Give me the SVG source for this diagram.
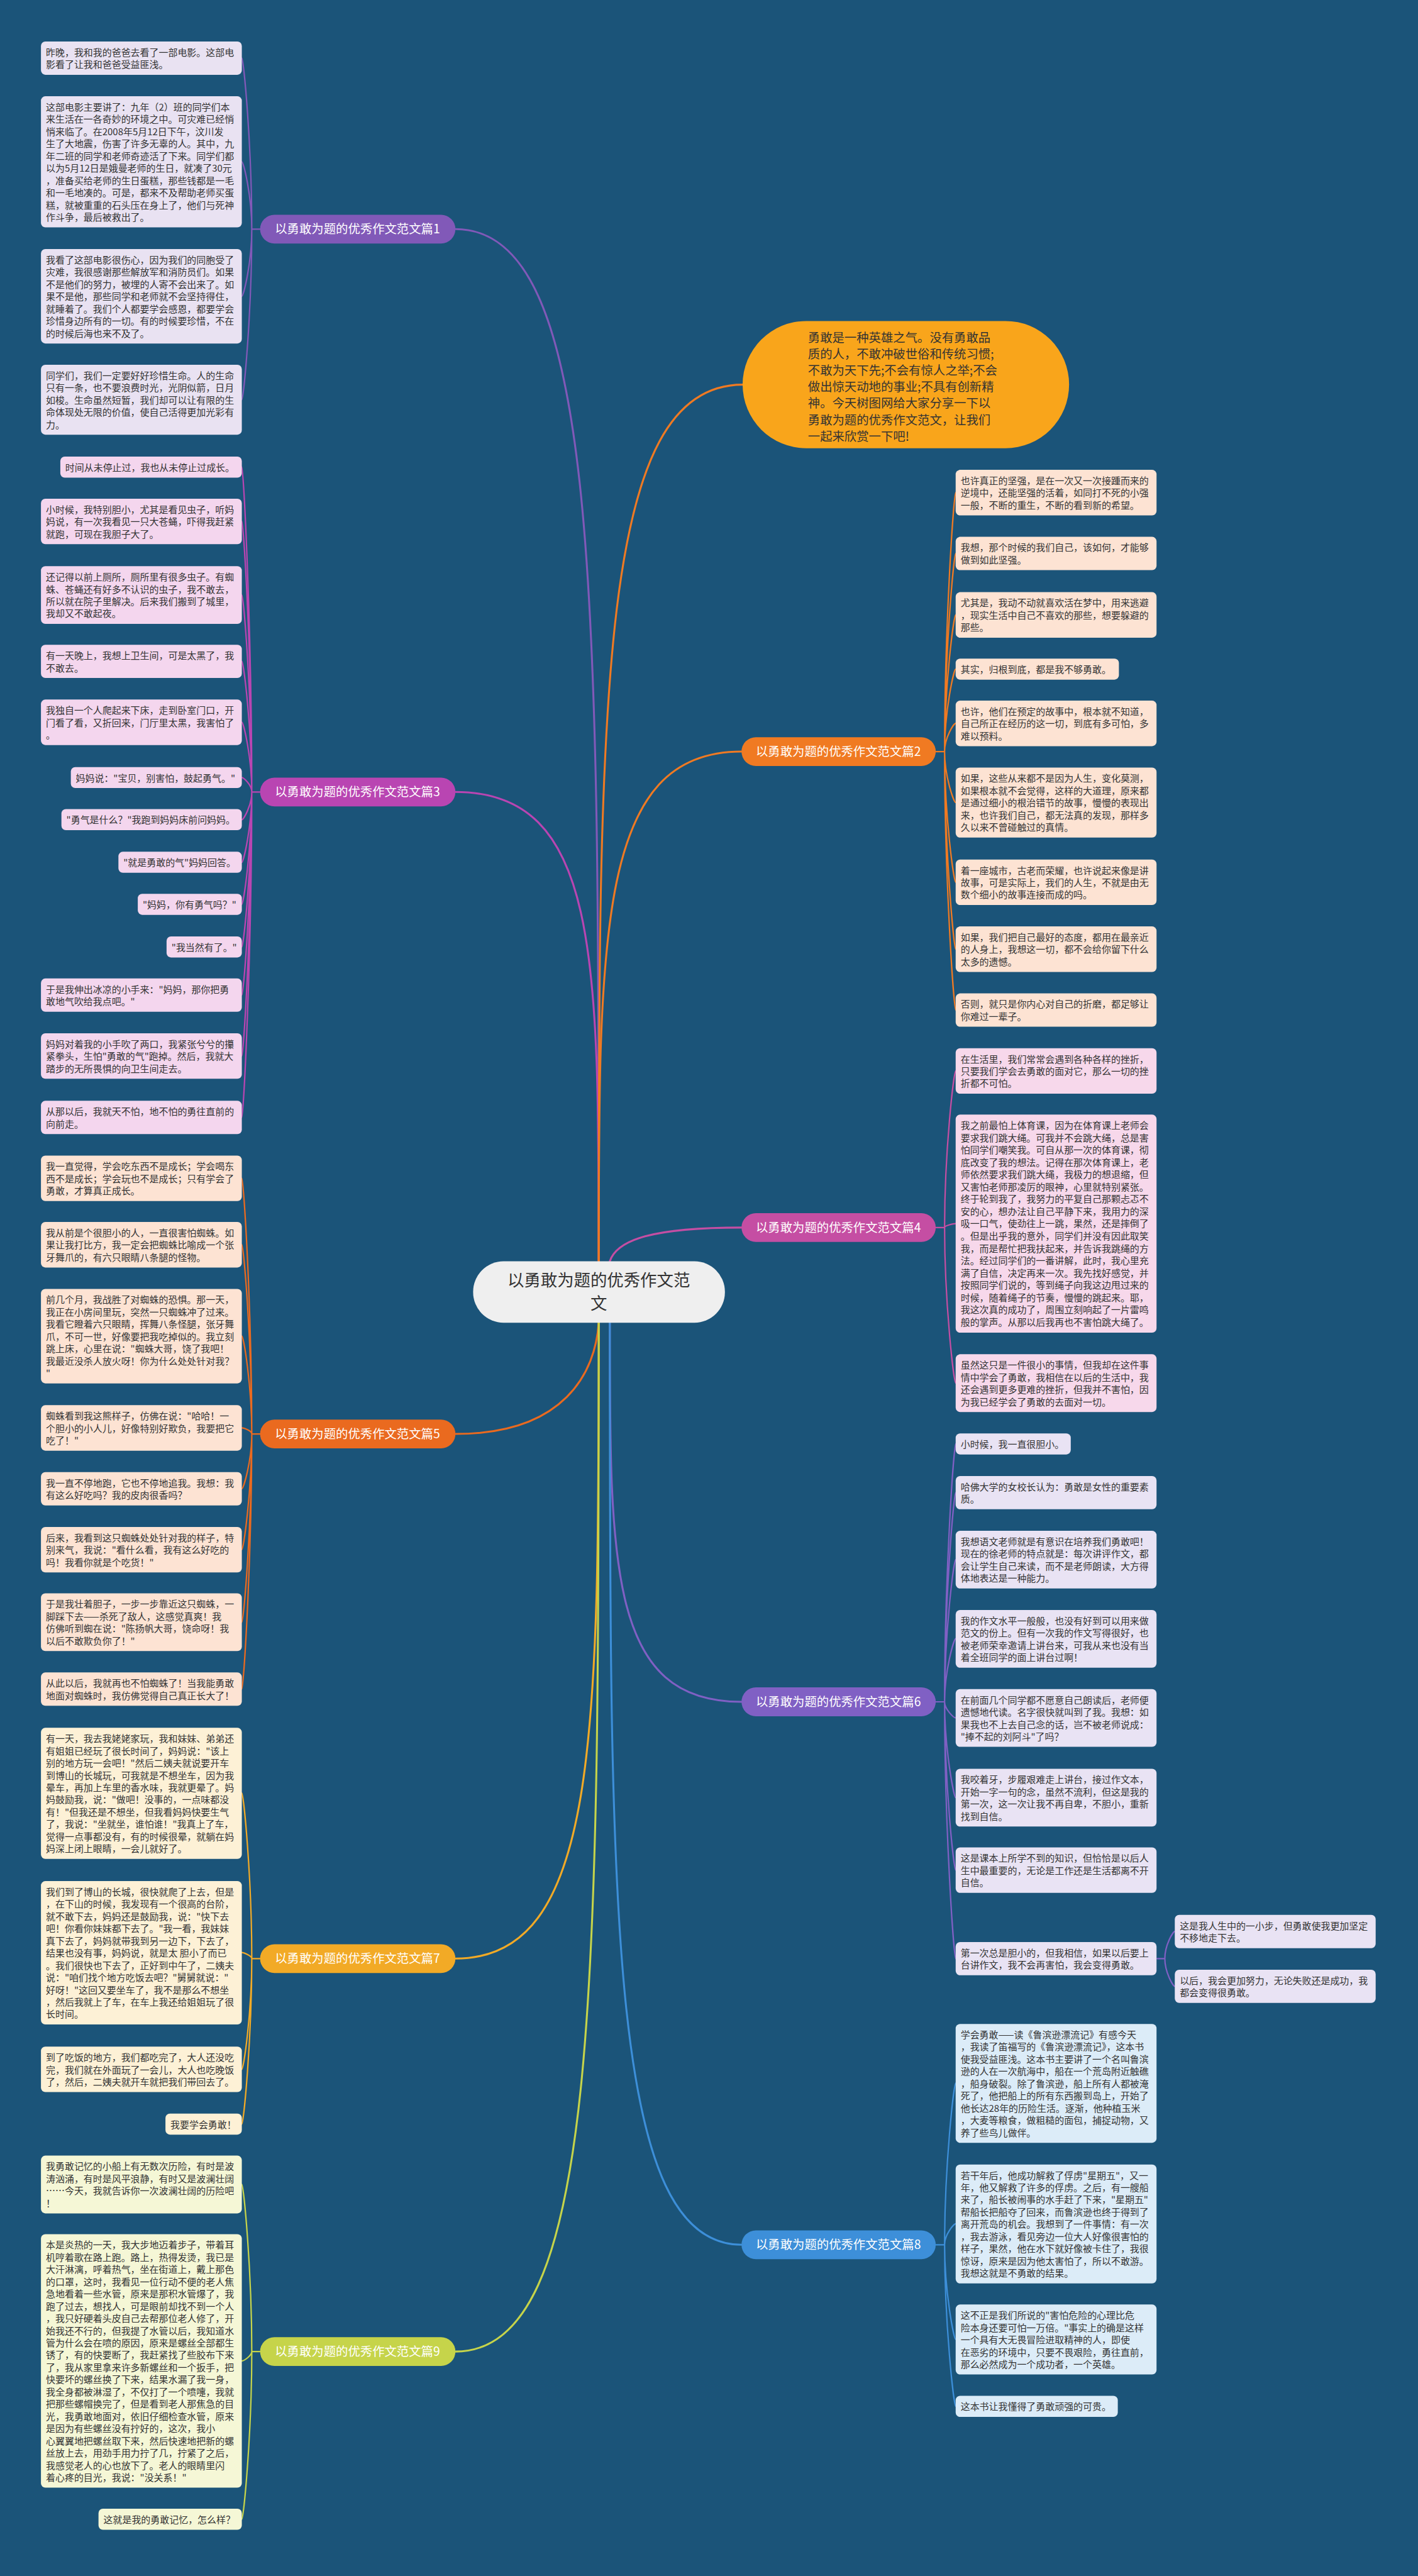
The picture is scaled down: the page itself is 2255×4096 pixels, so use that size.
<svg xmlns="http://www.w3.org/2000/svg" width="2255" height="4096" viewBox="0 0 2255 4096">
<style>
.t{font-family:"Noto Sans CJK SC","Noto Sans",sans-serif;font-size:17px;fill:#333}
.pt{font-family:"Noto Sans CJK SC","Noto Sans",sans-serif;font-size:22px;fill:#fff;text-anchor:middle}
.bt{font-family:"Noto Sans CJK SC","Noto Sans",sans-serif;font-size:22px;fill:#333}
.ct{font-family:"Noto Sans CJK SC","Noto Sans",sans-serif;font-size:30px;fill:#333;text-anchor:middle}
.c{fill:none;stroke-width:2.5;stroke-linecap:round}
.m{fill:none;stroke-width:3.5;stroke-linecap:round}
.f1{fill:#e9e2f2}.f2{fill:#fde3d3}.f3{fill:#f4d6ee}.f4{fill:#f7d8eb}.f5{fill:#fde3d3}.f6{fill:#e9e3f4}.f7{fill:#fdf1d6}.f8{fill:#dcecf8}.f9{fill:#f5f7d6}
.s1{stroke:#8159b8}.s2{stroke:#f07a22}.s3{stroke:#b945b2}.s4{stroke:#c54ea3}.s5{stroke:#ea6a1f}.s6{stroke:#8060c4}.s7{stroke:#f2aa26}.s8{stroke:#3d8fd9}.s9{stroke:#c6d44a}
</style>
<rect x="0" y="0" width="2255" height="4096" fill="#1b5479"/>
<g transform="scale(0.88)">
<g id="connectors">
<path class="m s1" d="M1082,2279 C1082,1067 1082,414 823,414"/>
<path class="m s3" d="M1082,2279 C1082,1728 1082,1431 823,1431"/>
<path class="m s2" d="M1082,2279 C1082,1249 1082,695 1342,695"/>
<path class="m s2" d="M1082,2279 C1082,1680 1082,1358 1340,1358"/>
<path class="m s4" d="M1102,2279 C1115,2240 1180,2218 1340,2218"/>
<path class="m s5" d="M1082,2390 C1076,2480 1020,2591 823,2591"/>
<path class="m s7" d="M1082,2390 C1082,3137 1082,3539 823,3539"/>
<path class="m s9" d="M1082,2390 C1082,3598 1082,4249 823,4249"/>
<path class="m s6" d="M1102,2390 C1102,2835 1102,3075 1340,3075"/>
<path class="m s8" d="M1102,2390 C1102,3473 1102,4056 1340,4056"/>
<path class="c s1" d="M470,414 H455 M455,414 C455,259.5 440,105 437,105 M455,414 C455,353 440,292.5 437,292.5 M455,414 C455,475 440,535 437,535 M455,414 C455,568 440,722 437,722"/>
<path class="c s3" d="M470,1431 H455 M455,1431 C455,1137 440,844 437,844 M455,1431 C455,1186 440,942 437,942 M455,1431 C455,1253 440,1075 437,1075 M455,1431 C455,1313 440,1195 437,1195 M455,1431 C455,1368 440,1305 437,1305 M455,1431 C455,1418 440,1405 437,1405 M455,1431 C455,1456 440,1481 437,1481 M455,1431 C455,1494 440,1558 437,1558 M455,1431 C455,1532 440,1634 437,1634 M455,1431 C455,1571 440,1711 437,1711 M455,1431 C455,1614 440,1798 437,1798 M455,1431 C455,1669 440,1908 437,1908 M455,1431 C455,1725 440,2019 437,2019"/>
<path class="c s5" d="M470,2591 H455 M455,2591 C455,2360 440,2129 437,2129 M455,2591 C455,2420 440,2249 437,2249 M455,2591 C455,2502 440,2414 437,2414 M455,2591 C455,2585 440,2580 437,2580 M455,2591 C455,2640 440,2690 437,2690 M455,2591 C455,2695 440,2800 437,2800 M455,2591 C455,2761 440,2931 437,2931 M455,2591 C455,2821 440,3052 437,3052"/>
<path class="c s7" d="M470,3539 H455 M455,3539 C455,3390 440,3240 437,3240 M455,3539 C455,3534 440,3528 437,3528 M455,3539 C455,3639 440,3739 437,3739 M455,3539 C455,3688 440,3838 437,3838"/>
<path class="c s9" d="M470,4249 H455 M455,4249 C455,4098 440,3947 437,3947 M455,4249 C455,4257 440,4266 437,4266 M455,4249 C455,4400 440,4552 437,4552"/>
<path class="c s2" d="M1691,1358 H1707 M1707,1358 C1707,1124 1724,890 1727,890 M1707,1358 C1707,1179 1724,1000 1727,1000 M1707,1358 C1707,1234 1724,1111 1727,1111 M1707,1358 C1707,1283 1724,1209 1727,1209 M1707,1358 C1707,1332 1724,1307 1727,1307 M1707,1358 C1707,1404 1724,1450 1727,1450 M1707,1358 C1707,1476 1724,1594 1727,1594 M1707,1358 C1707,1536 1724,1715 1727,1715 M1707,1358 C1707,1591 1724,1825 1727,1825"/>
<path class="c s4" d="M1691,2218 H1707 M1707,2218 C1707,2076 1724,1935 1727,1935 M1707,2218 C1707,2214 1724,2211 1727,2211 M1707,2218 C1707,2358 1724,2499 1727,2499"/>
<path class="c s6" d="M1691,3075 H1707 M1707,3075 C1707,2842 1724,2609 1727,2609 M1707,3075 C1707,2886 1724,2697 1727,2697 M1707,3075 C1707,2946 1724,2818 1727,2818 M1707,3075 C1707,3018 1724,2961 1727,2961 M1707,3075 C1707,3089 1724,3104 1727,3104 M1707,3075 C1707,3161 1724,3248 1727,3248 M1707,3075 C1707,3227 1724,3379 1727,3379 M1707,3075 C1707,3307 1724,3539 1727,3539 M2091,3539 H2105 M2105,3539 C2105,3514 2120,3490 2123,3490 M2105,3539 C2105,3564 2120,3589 2123,3589"/>
<path class="c s8" d="M1691,4056 H1707 M1707,4056 C1707,3910 1724,3764 1727,3764 M1707,4056 C1707,4037 1724,4018 1727,4018 M1707,4056 C1707,4142 1724,4227 1727,4227 M1707,4056 C1707,4202 1724,4348 1727,4348"/>
</g>
<g id="center"><rect x="855" y="2279" width="455" height="111" rx="55" fill="#efefef"/><text class="ct" x="1082"><tspan x="1082" y="2324">以勇敢为题的优秀作文范</tspan><tspan x="1082" y="2366">文</tspan></text></g>
<g id="intro"><rect x="1342" y="580" width="590" height="230" rx="115" fill="#f9a51b"/><text class="bt" x="1460" y="618"><tspan x="1460">勇敢是一种英雄之气。没有勇敢品</tspan><tspan x="1460" dy="29.7">质的人，不敢冲破世俗和传统习惯;</tspan><tspan x="1460" dy="29.7">不敢为天下先;不会有惊人之举;不会</tspan><tspan x="1460" dy="29.7">做出惊天动地的事业;不具有创新精</tspan><tspan x="1460" dy="29.7">神。今天树图网给大家分享一下以</tspan><tspan x="1460" dy="29.7">勇敢为题的优秀作文范文，让我们</tspan><tspan x="1460" dy="29.7">一起来欣赏一下吧!</tspan></text></g>
<g id="p1"><rect x="470" y="388" width="353" height="52" rx="26" fill="#8159b8"/><text class="pt" x="646" y="422">以勇敢为题的优秀作文范文篇1</text></g>
<g id="p3"><rect x="470" y="1405" width="353" height="52" rx="26" fill="#b945b2"/><text class="pt" x="646" y="1439">以勇敢为题的优秀作文范文篇3</text></g>
<g id="p5"><rect x="470" y="2565" width="353" height="52" rx="26" fill="#ea6a1f"/><text class="pt" x="646" y="2599">以勇敢为题的优秀作文范文篇5</text></g>
<g id="p7"><rect x="470" y="3513" width="353" height="52" rx="26" fill="#f2aa26"/><text class="pt" x="646" y="3547">以勇敢为题的优秀作文范文篇7</text></g>
<g id="p9"><rect x="470" y="4223" width="353" height="52" rx="26" fill="#c6d44a"/><text class="pt" x="646" y="4257">以勇敢为题的优秀作文范文篇9</text></g>
<g id="p2"><rect x="1340" y="1332" width="351" height="52" rx="26" fill="#f07a22"/><text class="pt" x="1515" y="1366">以勇敢为题的优秀作文范文篇2</text></g>
<g id="p4"><rect x="1340" y="2192" width="351" height="52" rx="26" fill="#c54ea3"/><text class="pt" x="1515" y="2226">以勇敢为题的优秀作文范文篇4</text></g>
<g id="p6"><rect x="1340" y="3049" width="351" height="52" rx="26" fill="#8060c4"/><text class="pt" x="1515" y="3083">以勇敢为题的优秀作文范文篇6</text></g>
<g id="p8"><rect x="1340" y="4030" width="351" height="52" rx="26" fill="#3d8fd9"/><text class="pt" x="1515" y="4064">以勇敢为题的优秀作文范文篇8</text></g>

<g id="L1a"><rect class="f1" x="74" y="75" width="363" height="60.1" rx="8"/><text class="t" y="101"><tspan x="83">昨晚，我和我的爸爸去看了一部电影。这部电</tspan><tspan x="83" dy="22.1">影看了让我和爸爸受益匪浅。</tspan></text></g>
<g id="L1b"><rect class="f1" x="74" y="174" width="363" height="236.9" rx="8"/><text class="t" y="200"><tspan x="83">这部电影主要讲了：九年（2）班的同学们本</tspan><tspan x="83" dy="22.1">来生活在一各奇妙的环境之中。可灾难已经悄</tspan><tspan x="83" dy="22.1">悄来临了。在2008年5月12日下午，汶川发</tspan><tspan x="83" dy="22.1">生了大地震，伤害了许多无辜的人。其中，九</tspan><tspan x="83" dy="22.1">年二班的同学和老师奇迹活了下来。同学们都</tspan><tspan x="83" dy="22.1">以为5月12日是娥曼老师的生日，就凑了30元</tspan><tspan x="83" dy="22.1">，准备买给老师的生日蛋糕，那些钱都是一毛</tspan><tspan x="83" dy="22.1">和一毛地凑的。可是，都来不及帮助老师买蛋</tspan><tspan x="83" dy="22.1">糕，就被重重的石头压在身上了，他们与死神</tspan><tspan x="83" dy="22.1">作斗争，最后被救出了。</tspan></text></g>
<g id="L1c"><rect class="f1" x="74" y="450" width="363" height="170.6" rx="8"/><text class="t" y="476"><tspan x="83">我看了这部电影很伤心，因为我们的同胞受了</tspan><tspan x="83" dy="22.1">灾难，我很感谢那些解放军和消防员们。如果</tspan><tspan x="83" dy="22.1">不是他们的努力，被埋的人寄不会出来了。如</tspan><tspan x="83" dy="22.1">果不是他，那些同学和老师就不会坚持得住，</tspan><tspan x="83" dy="22.1">就睡着了。我们个人都要学会感恩，都要学会</tspan><tspan x="83" dy="22.1">珍惜身边所有的一切。有的时候要珍惜，不在</tspan><tspan x="83" dy="22.1">的时候后海也来不及了。</tspan></text></g>
<g id="L1d"><rect class="f1" x="74" y="659" width="363" height="126.4" rx="8"/><text class="t" y="685"><tspan x="83">同学们，我们一定要好好珍惜生命。人的生命</tspan><tspan x="83" dy="22.1">只有一条，也不要浪费时光，光阴似箭，日月</tspan><tspan x="83" dy="22.1">如梭。生命虽然短暂，我们却可以让有限的生</tspan><tspan x="83" dy="22.1">命体现处无限的价值，使自己活得更加光彩有</tspan><tspan x="83" dy="22.1">力。</tspan></text></g>

<g id="L3a"><rect class="f3" x="109" y="825" width="328" height="38" rx="8"/><text class="t" x="118" y="851">时间从未停止过，我也从未停止过成长。</text></g>
<g id="L3b"><rect class="f3" x="74" y="901" width="363" height="82.2" rx="8"/><text class="t" y="927"><tspan x="83">小时候，我特别胆小，尤其是看见虫子，听妈</tspan><tspan x="83" dy="22.1">妈说，有一次我看见一只大苍蝇，吓得我赶紧</tspan><tspan x="83" dy="22.1">就跑，可现在我胆子大了。</tspan></text></g>
<g id="L3c"><rect class="f3" x="74" y="1023" width="363" height="104.3" rx="8"/><text class="t" y="1049"><tspan x="83">还记得以前上厕所，厕所里有很多虫子。有蜘</tspan><tspan x="83" dy="22.1">蛛、苍蝇还有好多不认识的虫子，我不敢去，</tspan><tspan x="83" dy="22.1">所以就在院子里解决。后来我们搬到了城里，</tspan><tspan x="83" dy="22.1">我却又不敢起夜。</tspan></text></g>
<g id="L3d"><rect class="f3" x="74" y="1165" width="363" height="60.1" rx="8"/><text class="t" y="1191"><tspan x="83">有一天晚上，我想上卫生间，可是太黑了，我</tspan><tspan x="83" dy="22.1">不敢去。</tspan></text></g>
<g id="L3e"><rect class="f3" x="74" y="1264" width="363" height="82.2" rx="8"/><text class="t" y="1290"><tspan x="83">我独自一个人爬起来下床，走到卧室门口，开</tspan><tspan x="83" dy="22.1">门看了看，又折回来，门厅里太黑，我害怕了</tspan><tspan x="83" dy="22.1">。</tspan></text></g>
<g id="L3f"><rect class="f3" x="128" y="1386" width="309" height="38" rx="8"/><text class="t" x="137" y="1412">妈妈说："宝贝，别害怕，鼓起勇气。"</text></g>
<g id="L3g"><rect class="f3" x="111" y="1462" width="326" height="38" rx="8"/><text class="t" x="120" y="1488">"勇气是什么？"我跑到妈妈床前问妈妈。</text></g>
<g id="L3h"><rect class="f3" x="214" y="1539" width="223" height="38" rx="8"/><text class="t" x="223" y="1565">"就是勇敢的气"妈妈回答。</text></g>
<g id="L3i"><rect class="f3" x="249" y="1615" width="188" height="38" rx="8"/><text class="t" x="258" y="1641">"妈妈，你有勇气吗？"</text></g>
<g id="L3j"><rect class="f3" x="301" y="1692" width="136" height="38" rx="8"/><text class="t" x="310" y="1718">"我当然有了。"</text></g>
<g id="L3k"><rect class="f3" x="74" y="1768" width="363" height="60.1" rx="8"/><text class="t" y="1794"><tspan x="83">于是我伸出冰凉的小手来："妈妈，那你把勇</tspan><tspan x="83" dy="22.1">敢地气吹给我点吧。"</tspan></text></g>
<g id="L3l"><rect class="f3" x="74" y="1867" width="363" height="82.2" rx="8"/><text class="t" y="1893"><tspan x="83">妈妈对着我的小手吹了两口，我紧张兮兮的攥</tspan><tspan x="83" dy="22.1">紧拳头，生怕"勇敢的气"跑掉。然后，我就大</tspan><tspan x="83" dy="22.1">踏步的无所畏惧的向卫生间走去。</tspan></text></g>
<g id="L3m"><rect class="f3" x="74" y="1989" width="363" height="60.1" rx="8"/><text class="t" y="2015"><tspan x="83">从那以后，我就天不怕，地不怕的勇往直前的</tspan><tspan x="83" dy="22.1">向前走。</tspan></text></g>

<g id="L5a"><rect class="f5" x="74" y="2088" width="363" height="82.2" rx="8"/><text class="t" y="2114"><tspan x="83">我一直觉得，学会吃东西不是成长；学会喝东</tspan><tspan x="83" dy="22.1">西不是成长；学会玩也不是成长；只有学会了</tspan><tspan x="83" dy="22.1">勇敢，才算真正成长。</tspan></text></g>
<g id="L5b"><rect class="f5" x="74" y="2208" width="363" height="82.2" rx="8"/><text class="t" y="2234"><tspan x="83">我从前是个很胆小的人，一直很害怕蜘蛛。如</tspan><tspan x="83" dy="22.1">果让我打比方，我一定会把蜘蛛比喻成一个张</tspan><tspan x="83" dy="22.1">牙舞爪的，有六只眼睛八条腿的怪物。</tspan></text></g>
<g id="L5c"><rect class="f5" x="74" y="2329" width="363" height="170.6" rx="8"/><text class="t" y="2355"><tspan x="83">前几个月，我战胜了对蜘蛛的恐惧。那一天，</tspan><tspan x="83" dy="22.1">我正在小房间里玩，突然一只蜘蛛冲了过来。</tspan><tspan x="83" dy="22.1">我看它瞪着六只眼睛，挥舞八条怪腿，张牙舞</tspan><tspan x="83" dy="22.1">爪，不可一世，好像要把我吃掉似的。我立刻</tspan><tspan x="83" dy="22.1">跳上床，心里在说："蜘蛛大哥，饶了我吧！</tspan><tspan x="83" dy="22.1">我最近没杀人放火呀！你为什么处处针对我？</tspan><tspan x="83" dy="22.1">"</tspan></text></g>
<g id="L5d"><rect class="f5" x="74" y="2539" width="363" height="82.2" rx="8"/><text class="t" y="2565"><tspan x="83">蜘蛛看到我这熊样子，仿佛在说："哈哈！一</tspan><tspan x="83" dy="22.1">个胆小的小人儿，好像特别好欺负，我要把它</tspan><tspan x="83" dy="22.1">吃了！"</tspan></text></g>
<g id="L5e"><rect class="f5" x="74" y="2660" width="363" height="60.1" rx="8"/><text class="t" y="2686"><tspan x="83">我一直不停地跑，它也不停地追我。我想：我</tspan><tspan x="83" dy="22.1">有这么好吃吗？我的皮肉很香吗？</tspan></text></g>
<g id="L5f"><rect class="f5" x="74" y="2759" width="363" height="82.2" rx="8"/><text class="t" y="2785"><tspan x="83">后来，我看到这只蜘蛛处处针对我的样子，特</tspan><tspan x="83" dy="22.1">别来气，我说："看什么看，我有这么好吃的</tspan><tspan x="83" dy="22.1">吗！我看你就是个吃货！"</tspan></text></g>
<g id="L5g"><rect class="f5" x="74" y="2879" width="363" height="104.3" rx="8"/><text class="t" y="2905"><tspan x="83">于是我壮着胆子，一步一步靠近这只蜘蛛，一</tspan><tspan x="83" dy="22.1">脚踩下去——杀死了敌人，这感觉真爽！我</tspan><tspan x="83" dy="22.1">仿佛听到蜘在说："陈扬帆大哥，饶命呀！我</tspan><tspan x="83" dy="22.1">以后不敢欺负你了！"</tspan></text></g>
<g id="L5h"><rect class="f5" x="74" y="3022" width="363" height="60.1" rx="8"/><text class="t" y="3048"><tspan x="83">从此以后，我就再也不怕蜘蛛了！当我能勇敢</tspan><tspan x="83" dy="22.1">地面对蜘蛛时，我仿佛觉得自己真正长大了！</tspan></text></g>

<g id="L7a"><rect class="f7" x="74" y="3122" width="363" height="236.9" rx="8"/><text class="t" y="3148"><tspan x="83">有一天，我去我姥姥家玩，我和妹妹、弟弟还</tspan><tspan x="83" dy="22.1">有姐姐已经玩了很长时间了，妈妈说："该上</tspan><tspan x="83" dy="22.1">别的地方玩一会吧！"然后二姨夫就说要开车</tspan><tspan x="83" dy="22.1">到博山的长城玩，可我就是不想坐车，因为我</tspan><tspan x="83" dy="22.1">晕车，再加上车里的香水味，我就更晕了。妈</tspan><tspan x="83" dy="22.1">妈鼓励我，说："做吧！没事的，一点味都没</tspan><tspan x="83" dy="22.1">有！"但我还是不想坐，但我看妈妈快要生气</tspan><tspan x="83" dy="22.1">了，我说："坐就坐，谁怕谁！"我真上了车，</tspan><tspan x="83" dy="22.1">觉得一点事都没有，有的时候很晕，就躺在妈</tspan><tspan x="83" dy="22.1">妈深上闭上眼睛，一会儿就好了。</tspan></text></g>
<g id="L7b"><rect class="f7" x="74" y="3399" width="363" height="259" rx="8"/><text class="t" y="3425"><tspan x="83">我们到了博山的长城，很快就爬了上去，但是</tspan><tspan x="83" dy="22.1">，在下山的时候，我发现有一个很高的台阶，</tspan><tspan x="83" dy="22.1">就不敢下去，妈妈还是鼓励我，说："快下去</tspan><tspan x="83" dy="22.1">吧！你看你妹妹都下去了。"我一看，我妹妹</tspan><tspan x="83" dy="22.1">真下去了，妈妈就带我到另一边下，下去了，</tspan><tspan x="83" dy="22.1">结果也没有事，妈妈说，就是太 胆小了而已</tspan><tspan x="83" dy="22.1">。我们很快也下去了，正好到中午了，二姨夫</tspan><tspan x="83" dy="22.1">说："咱们找个地方吃饭去吧？"舅舅就说："</tspan><tspan x="83" dy="22.1">好呀！"这回又要坐车了，我不是那么不想坐</tspan><tspan x="83" dy="22.1">，然后我就上了车，在车上我还给姐姐玩了很</tspan><tspan x="83" dy="22.1">长时间。</tspan></text></g>
<g id="L7c"><rect class="f7" x="74" y="3698" width="363" height="82.2" rx="8"/><text class="t" y="3724"><tspan x="83">到了吃饭的地方，我们都吃完了，大人还没吃</tspan><tspan x="83" dy="22.1">完，我们就在外面玩了一会儿，大人也吃晚饭</tspan><tspan x="83" dy="22.1">了，然后，二姨夫就开车就把我们带回去了。</tspan></text></g>
<g id="L7d"><rect class="f7" x="299" y="3819" width="138" height="38" rx="8"/><text class="t" x="308" y="3845">我要学会勇敢！</text></g>

<g id="L9a"><rect class="f9" x="74" y="3895" width="363" height="104.3" rx="8"/><text class="t" y="3921"><tspan x="83">我勇敢记忆的小船上有无数次历险，有时是波</tspan><tspan x="83" dy="22.1">涛汹涌，有时是风平浪静，有时又是波澜壮阔</tspan><tspan x="83" dy="22.1">……今天，我就告诉你一次波澜壮阔的历险吧</tspan><tspan x="83" dy="22.1">！</tspan></text></g>
<g id="L9b"><rect class="f9" x="74" y="4037" width="363" height="457.9" rx="8"/><text class="t" y="4063"><tspan x="83">本是炎热的一天，我大步地迈着步子，带着耳</tspan><tspan x="83" dy="22.1">机哼着歌在路上跑。路上，热得发烫，我已是</tspan><tspan x="83" dy="22.1">大汗淋漓，呼着热气，坐在街道上，戴上那色</tspan><tspan x="83" dy="22.1">的口罩，这时，我看见一位行动不便的老人焦</tspan><tspan x="83" dy="22.1">急地看着一些水管，原来是那积水管爆了，我</tspan><tspan x="83" dy="22.1">跑了过去，想找人，可是眼前却找不到一个人</tspan><tspan x="83" dy="22.1">，我只好硬着头皮自己去帮那位老人修了，开</tspan><tspan x="83" dy="22.1">始我还不行的，但我提了水管以后，我知道水</tspan><tspan x="83" dy="22.1">管为什么会在喷的原因，原来是螺丝全部都生</tspan><tspan x="83" dy="22.1">锈了，有的快要断了，我赶紧找了些胶布下来</tspan><tspan x="83" dy="22.1">了，我从家里拿来许多新螺丝和一个扳手，把</tspan><tspan x="83" dy="22.1">快要坏的螺丝换了下来，结果水漏了我一身，</tspan><tspan x="83" dy="22.1">我全身都被淋湿了，不仅打了一个喷嚏，我就</tspan><tspan x="83" dy="22.1">把那些螺帽换完了，但是看到老人那焦急的目</tspan><tspan x="83" dy="22.1">光，我勇敢地面对，依旧仔细检查水管，原来</tspan><tspan x="83" dy="22.1">是因为有些螺丝没有拧好的，这次，我小</tspan><tspan x="83" dy="22.1">心翼翼地把螺丝取下来，然后快速地把新的螺</tspan><tspan x="83" dy="22.1">丝放上去，用劲手用力拧了几，拧紧了之后，</tspan><tspan x="83" dy="22.1">我感觉老人的心也放下了。老人的眼睛里闪</tspan><tspan x="83" dy="22.1">着心疼的目光，我说："没关系！"</tspan></text></g>
<g id="L9c"><rect class="f9" x="178" y="4533" width="259" height="38" rx="8"/><text class="t" x="187" y="4559">这就是我的勇敢记忆，怎么样？</text></g>

<g id="R2a"><rect class="f2" x="1727" y="849" width="363" height="82.2" rx="8"/><text class="t" y="875"><tspan x="1736">也许真正的坚强，是在一次又一次接踵而来的</tspan><tspan x="1736" dy="22.1">逆境中，还能坚强的活着，如同打不死的小强</tspan><tspan x="1736" dy="22.1">一般，不断的重生，不断的看到新的希望。</tspan></text></g>
<g id="R2b"><rect class="f2" x="1727" y="970" width="363" height="60.1" rx="8"/><text class="t" y="996"><tspan x="1736">我想，那个时候的我们自己，该如何，才能够</tspan><tspan x="1736" dy="22.1">做到如此坚强。</tspan></text></g>
<g id="R2c"><rect class="f2" x="1727" y="1070" width="363" height="82.2" rx="8"/><text class="t" y="1096"><tspan x="1736">尤其是，我动不动就喜欢活在梦中，用来逃避</tspan><tspan x="1736" dy="22.1">，现实生活中自己不喜欢的那些，想要躲避的</tspan><tspan x="1736" dy="22.1">那些。</tspan></text></g>
<g id="R2d"><rect class="f2" x="1727" y="1190" width="295" height="38" rx="8"/><text class="t" x="1736" y="1216">其实，归根到底，都是我不够勇敢。</text></g>
<g id="R2e"><rect class="f2" x="1727" y="1266" width="363" height="82.2" rx="8"/><text class="t" y="1292"><tspan x="1736">也许，他们在预定的故事中，根本就不知道，</tspan><tspan x="1736" dy="22.1">自己所正在经历的这一切，到底有多可怕，多</tspan><tspan x="1736" dy="22.1">难以预料。</tspan></text></g>
<g id="R2f"><rect class="f2" x="1727" y="1387" width="363" height="126.4" rx="8"/><text class="t" y="1413"><tspan x="1736">如果，这些从来都不是因为人生，变化莫测，</tspan><tspan x="1736" dy="22.1">如果根本就不会觉得，这样的大道理，原来都</tspan><tspan x="1736" dy="22.1">是通过细小的根治错节的故事，慢慢的表现出</tspan><tspan x="1736" dy="22.1">来，也许我们自己，都无法真的发现，那样多</tspan><tspan x="1736" dy="22.1">久以来不曾碰触过的真情。</tspan></text></g>
<g id="R2g"><rect class="f2" x="1727" y="1553" width="363" height="82.2" rx="8"/><text class="t" y="1579"><tspan x="1736">着一座城市，古老而荣耀，也许说起来像是讲</tspan><tspan x="1736" dy="22.1">故事，可是实际上，我们的人生，不就是由无</tspan><tspan x="1736" dy="22.1">数个细小的故事连接而成的吗。</tspan></text></g>
<g id="R2h"><rect class="f2" x="1727" y="1674" width="363" height="82.2" rx="8"/><text class="t" y="1700"><tspan x="1736">如果，我们把自己最好的态度，都用在最亲近</tspan><tspan x="1736" dy="22.1">的人身上，我想这一切，都不会给你留下什么</tspan><tspan x="1736" dy="22.1">太多的遗憾。</tspan></text></g>
<g id="R2i"><rect class="f2" x="1727" y="1795" width="363" height="60.1" rx="8"/><text class="t" y="1821"><tspan x="1736">否则，就只是你内心对自己的折磨，都足够让</tspan><tspan x="1736" dy="22.1">你难过一辈子。</tspan></text></g>

<g id="R4a"><rect class="f4" x="1727" y="1894" width="363" height="82.2" rx="8"/><text class="t" y="1920"><tspan x="1736">在生活里，我们常常会遇到各种各样的挫折，</tspan><tspan x="1736" dy="22.1">只要我们学会去勇敢的面对它，那么一切的挫</tspan><tspan x="1736" dy="22.1">折都不可怕。</tspan></text></g>
<g id="R4b"><rect class="f4" x="1727" y="2014" width="363" height="394" rx="8"/><text class="t" y="2040"><tspan x="1736">我之前最怕上体育课，因为在体育课上老师会</tspan><tspan x="1736" dy="22.2">要求我们跳大绳。可我并不会跳大绳，总是害</tspan><tspan x="1736" dy="22.2">怕同学们嘲笑我。可自从那一次的体育课，彻</tspan><tspan x="1736" dy="22.2">底改变了我的想法。记得在那次体育课上，老</tspan><tspan x="1736" dy="22.2">师依然要求我们跳大绳，我极力的想退缩，但</tspan><tspan x="1736" dy="22.2">又害怕老师那凌厉的眼神，心里就特别紧张。</tspan><tspan x="1736" dy="22.2">终于轮到我了，我努力的平复自己那颗忐忑不</tspan><tspan x="1736" dy="22.2">安的心，想办法让自己平静下来，我用力的深</tspan><tspan x="1736" dy="22.2">吸一口气，使劲往上一跳，果然，还是摔倒了</tspan><tspan x="1736" dy="22.2">。但是出乎我的意外，同学们并没有因此取笑</tspan><tspan x="1736" dy="22.2">我，而是帮忙把我扶起来，并告诉我跳绳的方</tspan><tspan x="1736" dy="22.2">法。经过同学们的一番讲解，此时，我心里充</tspan><tspan x="1736" dy="22.2">满了自信，决定再来一次。我先找好感觉，并</tspan><tspan x="1736" dy="22.2">按照同学们说的，等到绳子向我这边甩过来的</tspan><tspan x="1736" dy="22.2">时候，随着绳子的节奏，慢慢的跳起来。耶，</tspan><tspan x="1736" dy="22.2">我这次真的成功了，周围立刻响起了一片雷鸣</tspan><tspan x="1736" dy="22.2">般的掌声。从那以后我再也不害怕跳大绳了。</tspan></text></g>
<g id="R4c"><rect class="f4" x="1727" y="2447" width="363" height="104.3" rx="8"/><text class="t" y="2473"><tspan x="1736">虽然这只是一件很小的事情，但我却在这件事</tspan><tspan x="1736" dy="22.1">情中学会了勇敢，我相信在以后的生活中，我</tspan><tspan x="1736" dy="22.1">还会遇到更多更难的挫折，但我并不害怕，因</tspan><tspan x="1736" dy="22.1">为我已经学会了勇敢的去面对一切。</tspan></text></g>

<g id="R6a"><rect class="f6" x="1727" y="2590" width="208" height="38" rx="8"/><text class="t" x="1736" y="2616">小时候，我一直很胆小。</text></g>
<g id="R6b"><rect class="f6" x="1727" y="2667" width="363" height="60.1" rx="8"/><text class="t" y="2693"><tspan x="1736">哈佛大学的女校长认为：勇敢是女性的重要素</tspan><tspan x="1736" dy="22.1">质。</tspan></text></g>
<g id="R6c"><rect class="f6" x="1727" y="2766" width="363" height="104.3" rx="8"/><text class="t" y="2792"><tspan x="1736">我想语文老师就是有意识在培养我们勇敢吧！</tspan><tspan x="1736" dy="22.1">现在的徐老师的特点就是：每次讲评作文，都</tspan><tspan x="1736" dy="22.1">会让学生自己来读，而不是老师朗读，大方得</tspan><tspan x="1736" dy="22.1">体地表达是一种能力。</tspan></text></g>
<g id="R6d"><rect class="f6" x="1727" y="2909" width="363" height="104.3" rx="8"/><text class="t" y="2935"><tspan x="1736">我的作文水平一般般，也没有好到可以用来做</tspan><tspan x="1736" dy="22.1">范文的份上。但有一次我的作文写得很好，也</tspan><tspan x="1736" dy="22.1">被老师荣幸邀请上讲台来，可我从来也没有当</tspan><tspan x="1736" dy="22.1">着全班同学的面上讲台过啊！</tspan></text></g>
<g id="R6e"><rect class="f6" x="1727" y="3052" width="363" height="104.3" rx="8"/><text class="t" y="3078"><tspan x="1736">在前面几个同学都不愿意自己朗读后，老师便</tspan><tspan x="1736" dy="22.1">遗憾地代读。名字很快就叫到了我。我想：如</tspan><tspan x="1736" dy="22.1">果我也不上去自己念的话，岂不被老师说成：</tspan><tspan x="1736" dy="22.1">"捧不起的刘阿斗"了吗？</tspan></text></g>
<g id="R6f"><rect class="f6" x="1727" y="3196" width="363" height="104.3" rx="8"/><text class="t" y="3222"><tspan x="1736">我咬着牙，步履艰难走上讲台，接过作文本，</tspan><tspan x="1736" dy="22.1">开始一字一句的念，虽然不流利，但这是我的</tspan><tspan x="1736" dy="22.1">第一次，这一次让我不再自卑，不胆小，重新</tspan><tspan x="1736" dy="22.1">找到自信。</tspan></text></g>
<g id="R6g"><rect class="f6" x="1727" y="3338" width="363" height="82.2" rx="8"/><text class="t" y="3364"><tspan x="1736">这是课本上所学不到的知识，但恰恰是以后人</tspan><tspan x="1736" dy="22.1">生中最重要的，无论是工作还是生活都离不开</tspan><tspan x="1736" dy="22.1">自信。</tspan></text></g>
<g id="R6h"><rect class="f6" x="1727" y="3509" width="363" height="60.1" rx="8"/><text class="t" y="3535"><tspan x="1736">第一次总是胆小的，但我相信，如果以后要上</tspan><tspan x="1736" dy="22.1">台讲作文，我不会再害怕，我会变得勇敢。</tspan></text></g>
<g id="R6h1"><rect class="f6" x="2123" y="3460" width="363" height="60.1" rx="8"/><text class="t" y="3486"><tspan x="2132">这是我人生中的一小步，但勇敢使我更加坚定</tspan><tspan x="2132" dy="22.1">不移地走下去。</tspan></text></g>
<g id="R6h2"><rect class="f6" x="2123" y="3559" width="363" height="60.1" rx="8"/><text class="t" y="3585"><tspan x="2132">以后，我会更加努力，无论失败还是成功，我</tspan><tspan x="2132" dy="22.1">都会变得很勇敢。</tspan></text></g>

<g id="R8a"><rect class="f8" x="1727" y="3657" width="363" height="214.8" rx="8"/><text class="t" y="3683"><tspan x="1736">学会勇敢——读《鲁滨逊漂流记》有感今天</tspan><tspan x="1736" dy="22.1">，我读了笛福写的《鲁滨逊漂流记》，这本书</tspan><tspan x="1736" dy="22.1">使我受益匪浅。这本书主要讲了一个名叫鲁滨</tspan><tspan x="1736" dy="22.1">逊的人在一次航海中，船在一个荒岛附近触礁</tspan><tspan x="1736" dy="22.1">，船身破裂。除了鲁滨逊，船上所有人都被淹</tspan><tspan x="1736" dy="22.1">死了，他把船上的所有东西搬到岛上，开始了</tspan><tspan x="1736" dy="22.1">他长达28年的历险生活。逐渐，他种植玉米</tspan><tspan x="1736" dy="22.1">，大麦等粮食，做粗糙的面包，捕捉动物，又</tspan><tspan x="1736" dy="22.1">养了些鸟儿做伴。</tspan></text></g>
<g id="R8b"><rect class="f8" x="1727" y="3911" width="363" height="214.8" rx="8"/><text class="t" y="3937"><tspan x="1736">若干年后，他成功解救了俘虏"星期五"，又一</tspan><tspan x="1736" dy="22.1">年，他又解救了许多的俘虏。之后，有一艘船</tspan><tspan x="1736" dy="22.1">来了，船长被闹事的水手赶了下来，"星期五"</tspan><tspan x="1736" dy="22.1">帮船长把船夺了回来，而鲁滨逊也终于得到了</tspan><tspan x="1736" dy="22.1">离开荒岛的机会。我想到了一件事情：有一次</tspan><tspan x="1736" dy="22.1">，我去游泳，看见旁边一位大人好像很害怕的</tspan><tspan x="1736" dy="22.1">样子，果然，他在水下就好像被卡住了，我很</tspan><tspan x="1736" dy="22.1">惊讶，原来是因为他太害怕了，所以不敢游。</tspan><tspan x="1736" dy="22.1">我想这就是不勇敢的结果。</tspan></text></g>
<g id="R8c"><rect class="f8" x="1727" y="4164" width="363" height="126.4" rx="8"/><text class="t" y="4190"><tspan x="1736">这不正是我们所说的"害怕危险的心理比危</tspan><tspan x="1736" dy="22.1">险本身还要可怕一万倍。"事实上的确是这样</tspan><tspan x="1736" dy="22.1">一个具有大无畏冒险进取精神的人，即使</tspan><tspan x="1736" dy="22.1">在恶劣的环境中，只要不畏艰险，勇往直前，</tspan><tspan x="1736" dy="22.1">那么必然成为一个成功者，一个英雄。</tspan></text></g>
<g id="R8d"><rect class="f8" x="1727" y="4329" width="293" height="38" rx="8"/><text class="t" x="1736" y="4355">这本书让我懂得了勇敢顽强的可贵。</text></g>
</g>
</svg>
